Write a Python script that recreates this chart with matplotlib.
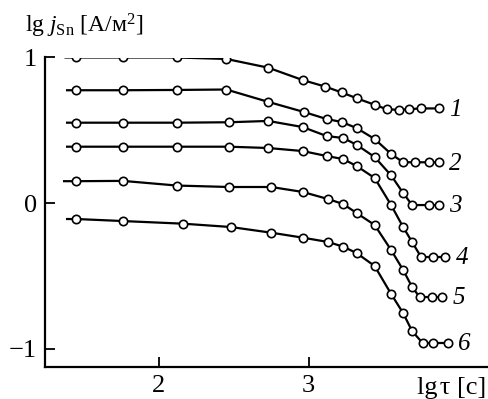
import matplotlib
matplotlib.use("Agg")
import matplotlib.pyplot as plt

plt.rcParams['font.family'] = ['Liberation Serif', 'DejaVu Serif']
plt.rcParams['mathtext.fontset'] = 'custom'
plt.rcParams['mathtext.rm'] = 'Liberation Serif'
plt.rcParams['mathtext.it'] = 'Liberation Serif:italic'

# lg tau values and lg j values
x1 = [1.45, 1.76, 2.12, 2.45, 2.73, 2.96, 3.11, 3.22, 3.32, 3.44, 3.52, 3.60, 3.67, 3.75, 3.87]
y1 = [1.0, 1.0, 1.0, 0.99, 0.93, 0.845, 0.80, 0.76, 0.72, 0.675, 0.645, 0.64, 0.645, 0.65, 0.65]
x2 = [1.45, 1.76, 2.12, 2.45, 2.73, 2.97, 3.12, 3.22, 3.32, 3.44, 3.55, 3.63, 3.71, 3.80, 3.87]
y2 = [0.775, 0.775, 0.777, 0.78, 0.695, 0.625, 0.577, 0.557, 0.515, 0.44, 0.337, 0.28, 0.28, 0.28, 0.28]
x3 = [1.45, 1.76, 2.12, 2.47, 2.73, 2.96, 3.12, 3.23, 3.32, 3.44, 3.55, 3.63, 3.69, 3.80, 3.87]
y3 = [0.552, 0.552, 0.552, 0.555, 0.564, 0.522, 0.46, 0.447, 0.40, 0.316, 0.19, 0.069, -0.014, -0.014, -0.014]
x4 = [1.45, 1.76, 2.12, 2.47, 2.73, 2.96, 3.12, 3.23, 3.32, 3.44, 3.55, 3.63, 3.69, 3.75, 3.83, 3.91]
y4 = [0.387, 0.387, 0.387, 0.387, 0.378, 0.357, 0.323, 0.302, 0.254, 0.172, -0.014, -0.165, -0.268, -0.371, -0.371, -0.371]
x5 = [1.45, 1.76, 2.12, 2.47, 2.75, 2.96, 3.13, 3.23, 3.32, 3.44, 3.55, 3.63, 3.69, 3.74, 3.82, 3.89]
y5 = [0.15, 0.152, 0.12, 0.11, 0.11, 0.076, 0.027, -0.007, -0.069, -0.151, -0.323, -0.46, -0.577, -0.646, -0.646, -0.646]
x6 = [1.45, 1.76, 2.16, 2.48, 2.75, 2.96, 3.13, 3.23, 3.32, 3.44, 3.55, 3.63, 3.69, 3.76, 3.83, 3.93]
y6 = [-0.11, -0.124, -0.142, -0.165, -0.204, -0.238, -0.268, -0.30, -0.344, -0.433, -0.625, -0.756, -0.88, -0.962, -0.962, -0.962]

series_x = [x1, x2, x3, x4, x5, x6]
series_y = [y1, y2, y3, y4, y5, y6]
curve_labels = ['1', '2', '3', '4', '5', '6']
line_start = [1.37, 1.38, 1.38, 1.38, 1.36, 1.38]   # left end of each line stub

xticks = [2, 3]
xtick_labels = ['2', '3']
yticks = [-1, 0, 1]
ytick_labels = ['\u22121', '0', '1']

fig = plt.figure(figsize=(4.88, 3.99), dpi=100)
ax = fig.add_axes([45/488, 32/399, (487-45)/488, (367-57.5)/399])

for xs, ys, x0, lab in zip(series_x, series_y, line_start, curve_labels):
    ax.plot([x0] + xs, [ys[0]] + ys, color='black', lw=1.6, solid_capstyle='butt')
    ax.plot(xs, ys, ls='none', marker='o', ms=6.0, mfc='white', mec='black', mew=1.2)
    ax.annotate(lab, xy=(xs[-1], ys[-1]), xytext=(7.5, -1), textcoords='offset points',
                ha='left', va='center', fontsize=18, fontstyle='italic')

ax.set_xlim(1.24, 4.19)
ax.set_ylim(-1.127, 1.0)
for s in ['top', 'right']:
    ax.spines[s].set_visible(False)
for s in ['left', 'bottom']:
    ax.spines[s].set_linewidth(1.6)
ax.set_xticks(xticks)
ax.set_xticklabels(xtick_labels)
ax.set_yticks(yticks)
ax.set_yticklabels(ytick_labels)
ax.tick_params(direction='in', length=7, width=1.3, labelsize=19, pad=6)
ax.tick_params(axis='y', pad=6)

fig.text(417/488, (399-394)/399, 'lg\u200aτ [c]', fontsize=19, ha='left', va='baseline')
fig.text(25/488, (399-32)/399, r'lg $j_{\mathrm{Sn}}$ [A/м$^{2}$]', fontsize=17, ha='left', va='baseline')

fig.savefig('out.png', dpi=100)
